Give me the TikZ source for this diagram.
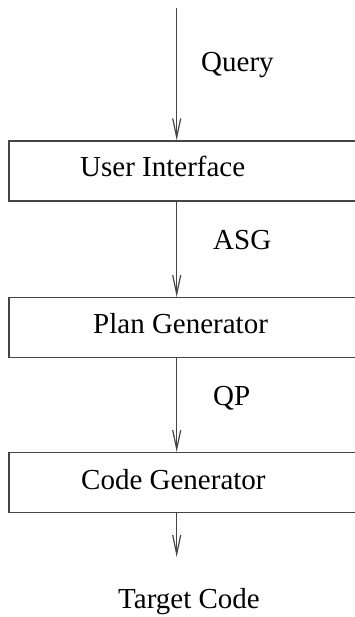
\documentclass[tikz,border=0pt]{standalone}
\usepackage{fontspec}
\setmainfont{Liberation Serif}
\usetikzlibrary{arrows.meta}
\definecolor{linegray}{HTML}{454545}
\tikzset{
  stage/.style={draw=linegray, line width=1.3pt, rectangle, inner sep=0pt,
    minimum width=360pt, minimum height=60pt, anchor=north west},
  lbl/.style={inner sep=0pt, anchor=base west, font=\fontsize{29}{31}\selectfont},
  flow/.style={draw=linegray, line width=1.2pt,
    -{Straight Barb[length=19pt,width=8pt,line width=1.2pt]}}
}
\begin{document}
\begin{tikzpicture}[x=1pt,y=-1pt]
\clip (0,0) rectangle (355,617);
\useasboundingbox (0,0) rectangle (355,617);
% processing stages
\node[stage] (ui)   at (8.3,140.3) {};
\node[stage] (plan) at (8.3,297) {};
\node[stage] (code) at (8.3,452) {};
% entry and exit points
\coordinate (in)  at (176.7,8.5);
\coordinate (out) at (176.7,557);
% stage names
\node[lbl] (tui)   at (80,177)  {User Interface};
\node[lbl] (tplan) at (93,333)  {Plan Generator};
\node[lbl] (tcode) at (81,489)  {Code Generator};
% data flowing between stages
\node[lbl] (lq)   at (201,72)  {Query};
\node[lbl] (lasg) at (213,250) {ASG};
\node[lbl] (lqp)  at (213,405) {QP};
\node[lbl] (ltc)  at (118,608) {Target Code};
\draw[flow] (in) -- (in |- ui.north);
\draw[flow] (in |- ui.south) -- (in |- plan.north);
\draw[flow] (in |- plan.south) -- (in |- code.north);
\draw[flow] (in |- code.south) -- (out);
\end{tikzpicture}
\end{document}
